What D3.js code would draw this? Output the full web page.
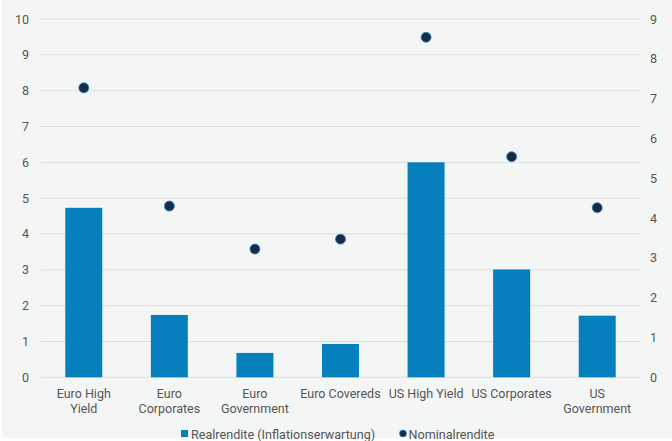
<!DOCTYPE html>
<html><head><meta charset="utf-8">
<script src="https://cdn.jsdelivr.net/npm/d3@7"></script>
<style>body{margin:0;background:#fff}svg{display:block;font-family:Roboto,"Noto Sans",sans-serif}</style>
</head><body>
<svg id="c" width="672" height="441"></svg>
<script>
const categories = ["Euro High Yield","Euro Corporates","Euro Government","Euro Covereds","US High Yield","US Corporates","US Government"];
const categoryLines = [["Euro High","Yield"],["Euro","Corporates"],["Euro","Government"],["Euro Covereds"],["US High Yield"],["US Corporates"],["US","Government"]];
const realrendite = [4.73, 1.74, 0.68, 0.93, 6.00, 3.01, 1.72];
const nominalrendite = [7.27, 4.30, 3.22, 3.47, 8.54, 5.54, 4.26];
const leftTicks = [0,1,2,3,4,5,6,7,8,9,10];
const rightTicks = [0,1,2,3,4,5,6,7,8,9];
const seriesNames = ["Realrendite (Inflationserwartung)","Nominalrendite"];

const svg = d3.select("#c");
svg.append("rect").attr("x",2).attr("y",0).attr("width",670).attr("height",438).attr("fill","#f4f5f5");

const x0 = 41, x1 = 640, yTop = 19, yBot = 377.3;
const x = d3.scaleBand().domain(categories).range([x0,x1]).paddingInner(0).paddingOuter(0);
const yL = d3.scaleLinear().domain([0,10]).range([yBot,yTop]);
const yR = d3.scaleLinear().domain([0,9]).range([yBot,yTop]);

// gridlines
svg.append("g").selectAll("line").data(leftTicks).join("line")
  .attr("x1",x0).attr("x2",x1).attr("y1",d=>yL(d)).attr("y2",d=>yL(d))
  .attr("stroke","#dcdddd").attr("stroke-width",1);

// left axis
const gl = svg.append("g").attr("transform",`translate(${x0},0)`)
  .call(d3.axisLeft(yL).tickValues(leftTicks).tickSize(0).tickPadding(12));
gl.select(".domain").remove();
gl.selectAll("text").attr("font-size",12.5).attr("fill","#555").attr("font-family","Roboto");

// right axis
const gr = svg.append("g").attr("transform",`translate(${x1},0)`)
  .call(d3.axisRight(yR).tickValues(rightTicks).tickSize(0).tickPadding(10));
gr.select(".domain").remove();
gr.selectAll("text").attr("font-size",12.5).attr("fill","#555").attr("font-family","Roboto");

// bars
const bw = 37;
svg.append("g").selectAll("rect").data(categories).join("rect")
  .attr("x",d=>x(d)+x.bandwidth()/2-bw/2).attr("width",bw)
  .attr("y",(d,i)=>yL(realrendite[i])).attr("height",(d,i)=>yBot-yL(realrendite[i]))
  .attr("fill","#0580bc");

// dots
svg.append("g").selectAll("circle").data(categories).join("circle")
  .attr("cx",d=>x(d)+x.bandwidth()/2).attr("cy",(d,i)=>yR(nominalrendite[i]))
  .attr("r",5).attr("fill","#1c2a44").attr("stroke","#1e8fd0").attr("stroke-width",0.8);

// x labels
const xl = svg.append("g");
categories.forEach((c,i)=>{
  const t = xl.append("text").attr("x",x(c)+x.bandwidth()/2).attr("text-anchor","middle")
    .attr("font-size",12.5).attr("fill","#555");
  categoryLines[i].forEach((ln,j)=>{
    t.append("tspan").attr("x",x(c)+x.bandwidth()/2).attr("y",398+j*15).text(ln);
  });
});

// legend
const lg = svg.append("g");
lg.append("rect").attr("x",181).attr("y",430).attr("width",7).attr("height",7).attr("fill","#0580bc");
lg.append("text").attr("x",191).attr("y",438.5).attr("font-size",12.6).attr("fill","#555").text(seriesNames[0]);
lg.append("circle").attr("cx",403).attr("cy",433.5).attr("r",3.5).attr("fill","#1c2a44").attr("stroke","#1e8fd0").attr("stroke-width",0.6);
lg.append("text").attr("x",408.5).attr("y",438.5).attr("font-size",12.6).attr("fill","#555").text(seriesNames[1]);
</script>
</body></html>
